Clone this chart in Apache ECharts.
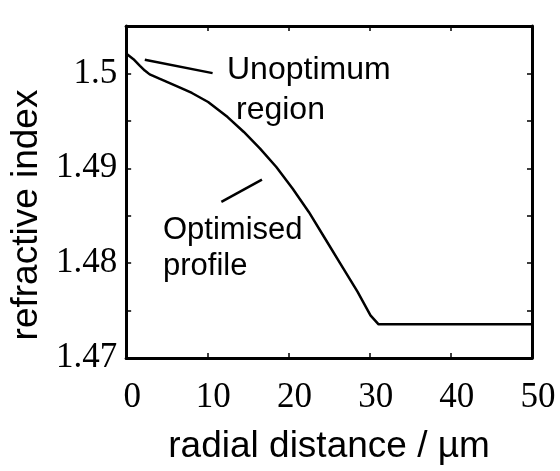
<!DOCTYPE html>
<html>
<head>
<meta charset="utf-8">
<script src="https://cdn.jsdelivr.net/npm/echarts@6/dist/echarts.min.js"></script>
<style>
html,body{margin:0;padding:0;background:#fff;}
#chart{width:560px;height:471px;}
</style>
</head>
<body>
<div id="chart"></div>
<script>
// radial distance (µm)
var radialDistance = [0, 0.9, 1.7, 2.3, 2.9, 4.1, 6.5, 8.1, 10.1, 12.5, 14.5, 16.5, 18.5, 20.5, 22.5, 24.5, 26.5, 28.5, 30.1, 31.1, 50];
// refractive index
var refractiveIndex = [1.5021, 1.5015, 1.5008, 1.5003, 1.4999, 1.49945, 1.49856, 1.49794, 1.49699, 1.4954, 1.49383, 1.49208, 1.49014, 1.48787, 1.4854, 1.4826, 1.4798, 1.4770, 1.4745, 1.47355, 1.47355];
// leader lines of the annotations [x1, y1, x2, y2]
var leaderUnoptimum = [2.3, 1.50144, 10.65, 1.50003];
var leaderOptimised = [11.73, 1.48645, 16.73, 1.48881];
var xTicks = [0, 10, 20, 30, 40, 50];
var yTickLabels = ['1.47', '1.48', '1.49', '1.5'];

var chart = echarts.init(document.getElementById('chart'), null, {renderer: 'canvas'});
var serif = '"Liberation Serif", "Times New Roman", serif';
var sans = '"Liberation Sans", Arial, sans-serif';

var lineData = radialDistance.map(function (x, i) { return [x, refractiveIndex[i]]; });

function yFmt(v) {
  var k = Math.round(v * 100);
  if (Math.abs(v * 100 - k) > 1e-6) return '';
  var t = String(+(k / 100).toFixed(2));
  return yTickLabels.indexOf(t) >= 0 ? t : '';
}

var tickStyle = {show: true, inside: true, length: 5, lineStyle: {color: '#000', width: 1.5}};
var axisLineStyle = {show: true, onZero: false, lineStyle: {color: '#000', width: 3}};

chart.setOption({
  animation: false,
  backgroundColor: '#fff',
  grid: {left: 116, right: 28, top: 26, bottom: 113, containLabel: false},
  xAxis: [{
    type: 'value', min: xTicks[0], max: xTicks[xTicks.length - 1], interval: 10,
    position: 'bottom',
    name: 'radial distance / µm', nameLocation: 'middle', nameGap: 70,
    nameTextStyle: {fontFamily: sans, fontSize: 37, color: '#000'},
    axisLine: axisLineStyle, axisTick: tickStyle,
    axisLabel: {fontFamily: serif, fontSize: 35, color: '#000', margin: 22, padding: [0, 0, 0, 12]},
    splitLine: {show: false}
  }, {
    type: 'value', min: xTicks[0], max: xTicks[xTicks.length - 1], interval: 10,
    position: 'top',
    axisLine: axisLineStyle, axisTick: tickStyle,
    axisLabel: {show: false}, splitLine: {show: false}
  }],
  yAxis: [{
    type: 'value', min: 1.47, max: 1.505, interval: 0.005,
    position: 'left',
    name: 'refractive index', nameLocation: 'middle', nameGap: 64, nameRotate: 90,
    nameTextStyle: {fontFamily: sans, fontSize: 37, color: '#000', padding: [0, 46, 0, 0]},
    axisLine: axisLineStyle, axisTick: tickStyle,
    axisLabel: {fontFamily: serif, fontSize: 35, color: '#000', margin: 9, formatter: yFmt, padding: [6, 0, 0, 0]},
    splitLine: {show: false}
  }, {
    type: 'value', min: 1.47, max: 1.505, interval: 0.005,
    position: 'right',
    axisLine: axisLineStyle, axisTick: tickStyle,
    axisLabel: {show: false}, splitLine: {show: false}
  }],
  series: [{
    type: 'line',
    data: lineData,
    showSymbol: false,
    symbol: 'none',
    clip: true,
    lineStyle: {color: '#000', width: 2.5},
    markLine: {
      silent: true,
      symbol: ['none', 'none'],
      label: {show: false},
      lineStyle: {color: '#000', width: 2.5, type: 'solid'},
      data: [
        [{coord: [leaderUnoptimum[0], leaderUnoptimum[1]]}, {coord: [leaderUnoptimum[2], leaderUnoptimum[3]]}],
        [{coord: [leaderOptimised[0], leaderOptimised[1]]}, {coord: [leaderOptimised[2], leaderOptimised[3]]}]
      ]
    }
  }],
  graphic: [
    {type: 'text', x: 227, y: 70, style: {text: 'Unoptimum', font: '32px ' + sans, fill: '#000', textAlign: 'left', textVerticalAlign: 'middle'}},
    {type: 'text', x: 236, y: 110, style: {text: 'region', font: '32px ' + sans, fill: '#000', textAlign: 'left', textVerticalAlign: 'middle'}},
    {type: 'text', x: 163, y: 230, style: {text: 'Optimised', font: '31px ' + sans, fill: '#000', textAlign: 'left', textVerticalAlign: 'middle'}},
    {type: 'text', x: 163, y: 266, style: {text: 'profile', font: '31px ' + sans, fill: '#000', textAlign: 'left', textVerticalAlign: 'middle'}}
  ]
});
</script>
</body>
</html>
